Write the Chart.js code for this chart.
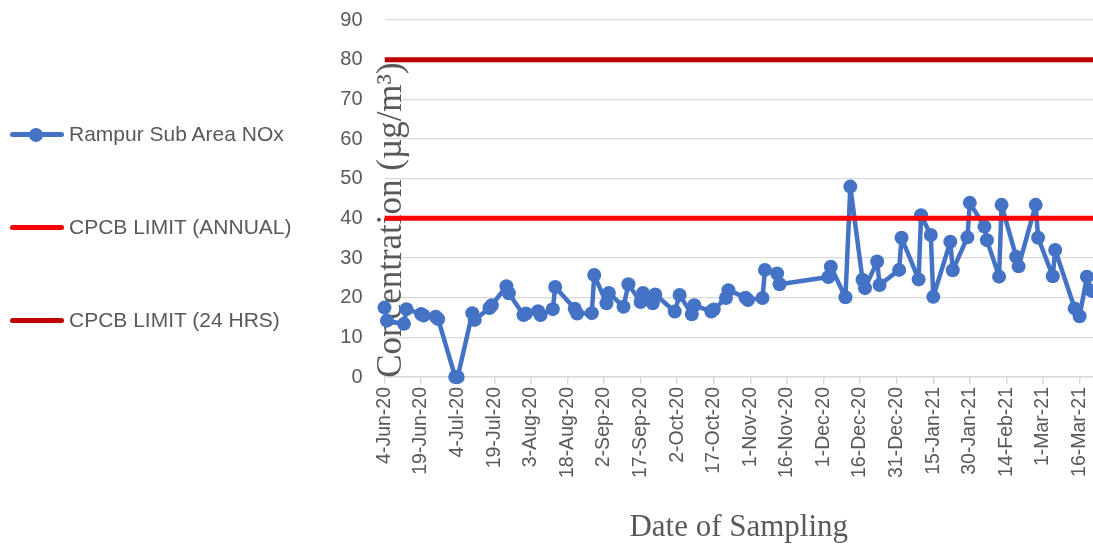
<!DOCTYPE html>
<html>
<head>
<meta charset="utf-8">
<script src="https://cdn.jsdelivr.net/npm/chart.js@4.4.1/dist/chart.umd.min.js"></script>
<style>
  html, body { margin: 0; padding: 0; background: #ffffff; }
  #wrap { position: relative; width: 1093px; height: 546px; overflow: hidden; }
  #c { position: absolute; left: 0; top: 0; }
  .leg { position: absolute; left: 0; height: 30px; width: 330px; font-family: "Liberation Sans", Arial, sans-serif; font-size: 21px; color: #595959; }
  .leg .ln { position: absolute; left: 10px; top: 12px; width: 54px; height: 5px; border-radius: 3px; }
  .leg .dt { position: absolute; left: 29px; top: 7.5px; width: 14px; height: 14px; border-radius: 50%; }
  .leg .tx { position: absolute; left: 69px; top: 2px; white-space: nowrap; }
</style>
</head>
<body>
<div id="wrap">
  <canvas id="c" width="1093" height="546"></canvas>
  <div class="leg" style="top:120px"><div class="ln" style="background:#4472C4"></div><div class="dt" style="background:#4472C4"></div><div class="tx">Rampur Sub Area NOx</div></div>
  <div class="leg" style="top:213px"><div class="ln" style="background:#FF0000"></div><div class="tx">CPCB LIMIT (ANNUAL)</div></div>
  <div class="leg" style="top:306px"><div class="ln" style="background:#C00000"></div><div class="tx">CPCB LIMIT (24 HRS)</div></div>
</div>
<script>
// ---- data ----
const sampleDates = [
  '2020-06-04','2020-06-05','2020-06-12','2020-06-13','2020-06-19','2020-06-20','2020-06-25','2020-06-26','2020-07-03','2020-07-04',
  '2020-07-10','2020-07-11','2020-07-17','2020-07-18','2020-07-24','2020-07-25','2020-07-31','2020-08-01','2020-08-06','2020-08-07',
  '2020-08-12','2020-08-13','2020-08-21','2020-08-22','2020-08-28','2020-08-29','2020-09-03','2020-09-04','2020-09-10','2020-09-12',
  '2020-09-17','2020-09-18','2020-09-22','2020-09-23','2020-10-01','2020-10-03','2020-10-08','2020-10-09','2020-10-16','2020-10-17',
  '2020-10-22','2020-10-23','2020-10-30','2020-10-31','2020-11-06','2020-11-07','2020-11-12','2020-11-13','2020-12-03','2020-12-04',
  '2020-12-10','2020-12-12','2020-12-17','2020-12-18','2020-12-23','2020-12-24','2021-01-01','2021-01-02','2021-01-09','2021-01-10',
  '2021-01-14','2021-01-15','2021-01-22','2021-01-23','2021-01-29','2021-01-30','2021-02-05','2021-02-06','2021-02-11','2021-02-12',
  '2021-02-18','2021-02-19','2021-02-26','2021-02-27','2021-03-05','2021-03-06','2021-03-14','2021-03-16','2021-03-19','2021-03-21'
];
const noxValues = [
  17.5,14.2,13.4,17.1,15.9,15.5,15.2,14.6,0,0,
  16.1,14.4,17.4,18.1,22.9,21.1,15.6,16.0,16.6,15.6,
  17.1,22.7,17.2,16.0,16.1,25.7,18.6,21.2,17.7,23.4,
  18.9,21.2,18.6,20.8,16.5,20.7,15.8,18.1,16.5,17.0,
  19.9,21.9,20.0,19.4,19.9,27.0,26.1,23.4,25.2,27.8,
  20.1,48.0,24.5,22.4,29.1,23.2,27.0,35.1,24.6,40.8,
  35.8,20.2,34.1,26.9,35.2,43.9,37.9,34.5,25.3,43.4,
  30.3,27.9,43.4,35.1,25.4,32.0,17.3,15.3,25.3,21.7
];
const limitAnnual = 40;
const limit24h = 80;
const tickLabels = ['4-Jun-20','19-Jun-20','4-Jul-20','19-Jul-20','3-Aug-20','18-Aug-20','2-Sep-20','17-Sep-20','2-Oct-20','17-Oct-20',
  '1-Nov-20','16-Nov-20','1-Dec-20','16-Dec-20','31-Dec-20','15-Jan-21','30-Jan-21','14-Feb-21','1-Mar-21','16-Mar-21'];
const axisEndDate = '2021-03-21';
const yTicks = [0,10,20,30,40,50,60,70,80,90];

// ---- helpers ----
const MONTHS = ['Jan','Feb','Mar','Apr','May','Jun','Jul','Aug','Sep','Oct','Nov','Dec'];
const DAY = 86400000;
const base = Date.UTC(2020, 5, 4);
function isoToDay(s){ const p = s.split('-'); return (Date.UTC(+p[0], +p[1]-1, +p[2]) - base) / DAY; }
function labelToDay(s){ const p = s.split('-'); return (Date.UTC(2000 + +p[2], MONTHS.indexOf(p[1]), +p[0]) - base) / DAY; }
const tickDays = tickLabels.map(labelToDay);
const labelByDay = {}; tickDays.forEach((d,i)=>labelByDay[d]=tickLabels[i]);
const xMax = isoToDay(axisEndDate) + 0.5;

const noxPoints = sampleDates.map((d,i)=>({x: isoToDay(d), y: noxValues[i]}));

const GREY = '#595959';
const GRID = '#d9d9d9';

const yTitlePlugin = {
  id: 'yTitle',
  beforeDatasetsDraw(chart){
    const {ctx, chartArea} = chart;
    ctx.save();
    ctx.translate(chartArea.left + 7, 220);
    ctx.rotate(-Math.PI/2);
    ctx.font = '35px "Liberation Serif", "Times New Roman", serif';
    ctx.fillStyle = GREY;
    ctx.textAlign = 'center';
    ctx.textBaseline = 'middle';
    ctx.fillText('Concentration (µg/m³)', 0, 0);
    ctx.restore();
  }
};

new Chart(document.getElementById('c'), {
  type: 'line',
  data: {
    datasets: [
      { label: 'Rampur Sub Area NOx', data: noxPoints, borderColor: '#4472C4', backgroundColor: '#4472C4',
        borderWidth: 4.5, borderJoinStyle: 'round', borderCapStyle: 'round',
        pointRadius: 7, pointBorderWidth: 0, pointBackgroundColor: '#4472C4', tension: 0, order: 2, clip: false },
      { label: 'CPCB LIMIT (ANNUAL)', data: [{x:0,y:limitAnnual},{x:xMax,y:limitAnnual}], borderColor: '#FF0000',
        borderWidth: 5, pointRadius: 0, order: 1 },
      { label: 'CPCB LIMIT (24 HRS)', data: [{x:0,y:limit24h},{x:xMax,y:limit24h}], borderColor: '#C00000',
        borderWidth: 5, pointRadius: 0, order: 1 }
    ]
  },
  options: {
    responsive: false,
    animation: false,
    layout: { autoPadding: false, padding: { left: 0, right: 0, top: 20, bottom: 0 } },
    plugins: { legend: { display: false }, tooltip: { enabled: false } },
    scales: {
      x: {
        type: 'linear', min: 0, max: xMax,
        afterBuildTicks(scale){ scale.ticks = tickDays.map(v=>({value:v})); },
        afterFit(scale){ scale.height = 169; scale.paddingLeft = 0; scale.paddingRight = 0; },
        grid: { drawOnChartArea: false, drawTicks: true, tickLength: 7, color: GRID, lineWidth: 1.5 },
        border: { display: true, color: GRID, width: 1.5 },
        ticks: { autoSkip: false, maxRotation: 90, minRotation: 90, padding: 3, color: GREY,
          font: { family: '"Liberation Sans", Arial, sans-serif', size: 19.5 },
          callback: (v)=> labelByDay[v] || '' },
        title: { display: true, text: 'Date of Sampling', color: GREY, padding: { top: 0, bottom: 0 },
          font: { family: '"Liberation Serif", "Times New Roman", serif', size: 31 } }
      },
      y: {
        min: 0, max: 90,
        afterBuildTicks(scale){ scale.ticks = yTicks.map(v=>({value:v})); },
        afterFit(scale){ scale.width = 384.5; scale.paddingTop = 0; scale.paddingBottom = 0; },
        grid: { color: GRID, lineWidth: 1.3, drawTicks: false },
        border: { display: false },
        ticks: { padding: 22, color: GREY, font: { family: '"Liberation Sans", Arial, sans-serif', size: 20 } }
      }
    }
  },
  plugins: [yTitlePlugin]
});
</script>
</body>
</html>
